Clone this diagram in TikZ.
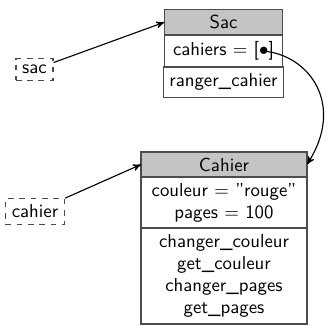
\documentclass[tikz,border=0pt]{standalone}
\usetikzlibrary{shapes,arrows,calc,positioning}
\renewcommand{\familydefault}{\sfdefault}
\tikzstyle{case} = [rectangle, draw=black!70, align=center, inner ysep=0pt, outer sep=0pt,
    font=\fontsize{10pt}{11.7pt}\selectfont]
\tikzstyle{entete} = [case, fill=black!23]
\tikzstyle{var} = [rectangle, draw=black!70, dashed]

\begin{document}
\begin{tikzpicture}[x=0.532pt,y=-0.532pt,->,>=stealth',semithick,node distance=0pt]
  \useasboundingbox (0,0) rectangle (328,330);

  % classe Sac
  \node[entete, minimum width=63pt, minimum height=13.6pt, anchor=north] (SacNom) at (223.5,9.5) {Sac};
  \node[case, minimum width=63pt, minimum height=17pt]   (SacAttr) [below=of SacNom]  {cahiers = [$\bullet$]};
  \node[case, minimum width=63pt, minimum height=16pt]   (SacMeth) [below=of SacAttr] {ranger\_cahier};

  % classe Cahier
  \node[entete, minimum width=88.3pt, minimum height=13.3pt, anchor=north] (CahierNom) at (224,152) {Cahier};
  \node[case, minimum width=88.3pt, minimum height=27.1pt] (CahierAttr) [below=of CahierNom]
    {couleur = "rouge"\\ pages = 100};
  \node[case, minimum width=88.3pt, minimum height=51.1pt] (CahierMeth) [below=of CahierAttr]
    {changer\_couleur\\ get\_couleur\\ changer\_pages\\ get\_pages};

  \node[var] (sac)    at (34.5,69.5) {sac};
  \node[var] (cahier) at (35,211.5)  {cahier};

  % references -> objets
  \draw (sac) -- (SacNom.west);
  \draw (cahier) -- (CahierNom.west);

  % element de la liste -> objet
  \coordinate (elt) at (263,51);
  \draw (elt) .. controls (310,55) and (345,105) .. (CahierNom.east);
\end{tikzpicture}
\end{document}
